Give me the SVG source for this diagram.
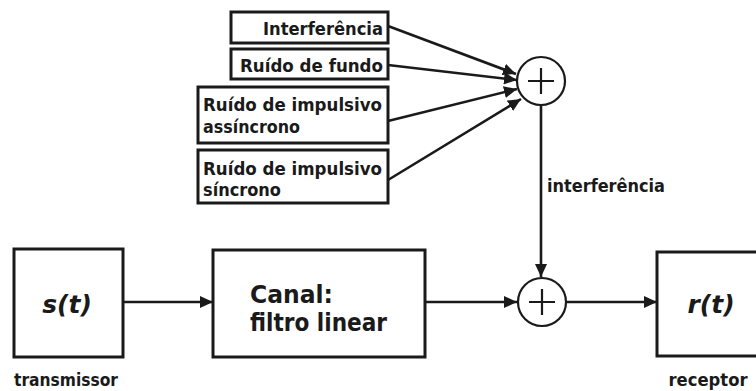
<svg xmlns="http://www.w3.org/2000/svg" width="756" height="391" viewBox="0 0 756 391">
<defs>
<style>
.box{fill:#fff;stroke:#1a1a1a;stroke-width:3}
.sum{fill:#fff;stroke:#1a1a1a;stroke-width:2.2}
.plus{stroke:#1a1a1a;stroke-width:2.2;fill:none}
.conn{stroke:#1a1a1a;stroke-width:2.6;fill:none}
.t{font-family:"DejaVu Sans",sans-serif;font-weight:bold;fill:#1a1a1a}
.s{font-size:17px}
.big{font-size:25px}
.it{font-style:italic;font-size:25px}
</style>
<marker id="ah" markerUnits="userSpaceOnUse" markerWidth="14" markerHeight="12" refX="13" refY="6" orient="auto">
<path d="M0,0 L13,6 L0,12 z" fill="#1a1a1a"/>
</marker>
</defs>
<rect width="756" height="391" fill="#fff"/>
<g id="connectors">
<line class="conn" x1="388" y1="26" x2="516" y2="74" marker-end="url(#ah)"/>
<line class="conn" x1="388" y1="65" x2="517" y2="80" marker-end="url(#ah)"/>
<line class="conn" x1="388" y1="121" x2="517" y2="89" marker-end="url(#ah)"/>
<line class="conn" x1="388" y1="180" x2="521" y2="99" marker-end="url(#ah)"/>
<line class="conn" x1="541" y1="105" x2="541" y2="277" marker-end="url(#ah)"/>
<line class="conn" x1="123" y1="302" x2="213" y2="302" marker-end="url(#ah)"/>
<line class="conn" x1="425" y1="302" x2="517" y2="302" marker-end="url(#ah)"/>
<line class="conn" x1="566" y1="302" x2="657" y2="302" marker-end="url(#ah)"/>
<text class="t s" x="547" y="192" textLength="118" lengthAdjust="spacingAndGlyphs">interferência</text>
</g>
<g id="n-interferencia">
<rect class="box" x="231" y="12" width="157" height="31"/>
<text class="t s" x="383" y="35" text-anchor="end" textLength="120" lengthAdjust="spacingAndGlyphs">Interferência</text>
</g>
<g id="n-fundo">
<rect class="box" x="231" y="49" width="157" height="30"/>
<text class="t s" x="383" y="72" text-anchor="end" textLength="143" lengthAdjust="spacingAndGlyphs">Ruído de fundo</text>
</g>
<g id="n-assincrono">
<rect class="box" x="198" y="87" width="190" height="56"/>
<text class="t s" x="203" y="111" textLength="179" lengthAdjust="spacingAndGlyphs">Ruído de impulsivo</text>
<text class="t s" x="203" y="133" textLength="97" lengthAdjust="spacingAndGlyphs">assíncrono</text>
</g>
<g id="n-sincrono">
<rect class="box" x="198" y="150" width="190" height="53"/>
<text class="t s" x="203" y="175" textLength="179" lengthAdjust="spacingAndGlyphs">Ruído de impulsivo</text>
<text class="t s" x="203" y="196" textLength="78" lengthAdjust="spacingAndGlyphs">síncrono</text>
</g>
<g id="n-sum1">
<circle class="sum" cx="541" cy="81" r="24"/>
<path class="plus" d="M528,81 H554 M541,68 V94"/>
</g>
<g id="n-transmissor">
<rect class="box" x="14" y="249" width="109" height="108"/>
<text class="t it" x="67" y="313" text-anchor="middle">s(t)</text>
<text class="t s" x="66" y="386" text-anchor="middle" textLength="104" lengthAdjust="spacingAndGlyphs">transmissor</text>
</g>
<g id="n-canal">
<rect class="box" x="213" y="250" width="212" height="107"/>
<text class="t big" x="250" y="303" textLength="83" lengthAdjust="spacingAndGlyphs">Canal:</text>
<text class="t big" x="250" y="331" textLength="137" lengthAdjust="spacingAndGlyphs">filtro linear</text>
</g>
<g id="n-sum2">
<circle class="sum" cx="542" cy="302" r="24"/>
<path class="plus" d="M529,302 H555 M542,289 V315"/>
</g>
<g id="n-receptor">
<rect class="box" x="657" y="252" width="120" height="104"/>
<text class="t it" x="711" y="313" text-anchor="middle">r(t)</text>
<text class="t s" x="708" y="386" text-anchor="middle" textLength="79" lengthAdjust="spacingAndGlyphs">receptor</text>
</g>
</svg>
